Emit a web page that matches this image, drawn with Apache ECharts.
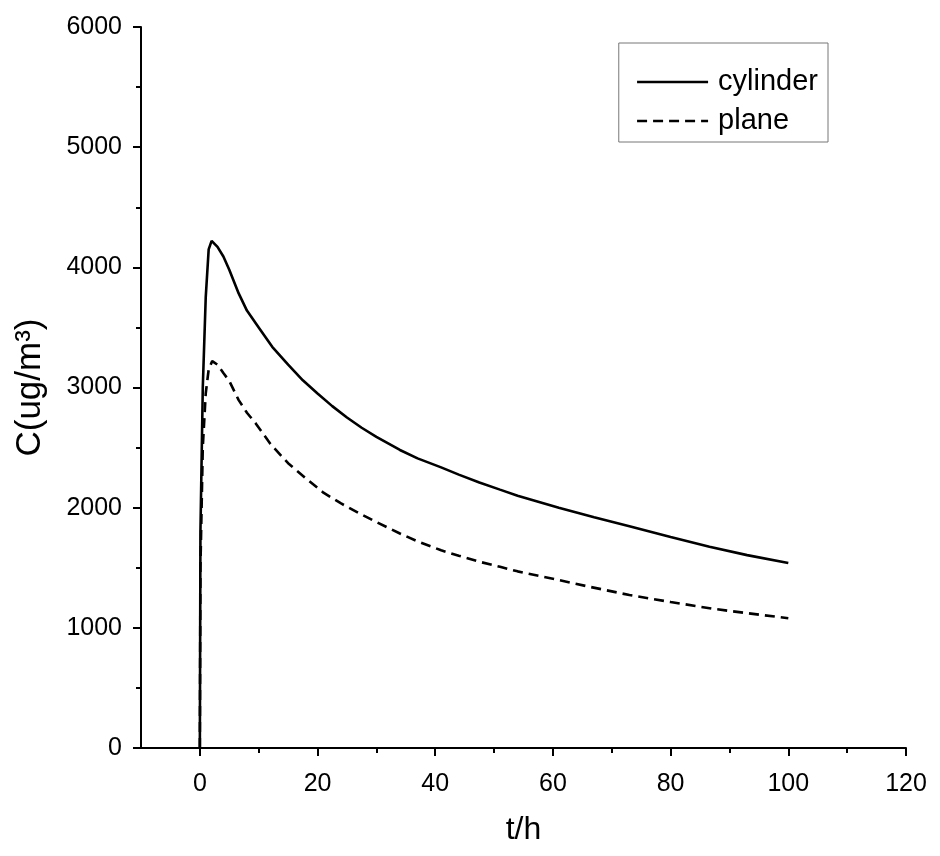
<!DOCTYPE html>
<html>
<head>
<meta charset="utf-8">
<script src="https://cdn.jsdelivr.net/npm/echarts@6/dist/echarts.min.js"></script>
<style>html,body{margin:0;padding:0;background:#fff;}#c{width:940px;height:856px;}</style>
</head>
<body>
<div id="c"></div>
<script>
var seriesNames = ['cylinder', 'plane'];
var tCylinder = [0, 0.1, 0.5, 1, 1.5, 2, 3, 4, 5, 6.6, 8, 10, 12.3, 15, 17.5, 20, 22.5, 25, 27.5, 30, 34, 37, 41, 44, 47.5, 51, 54, 57.5, 61, 67, 73, 80, 86.6, 93, 100];
var cCylinder = [0, 1800, 3000, 3750, 4150, 4220, 4170, 4090, 3980, 3783, 3640, 3500, 3339, 3190, 3060, 2950, 2845, 2750, 2665, 2590, 2480, 2410, 2335, 2275, 2210, 2150, 2100, 2050, 2000, 1920, 1845, 1755, 1675, 1605, 1540];
var tPlane = [0, 0.1, 0.5, 1, 1.5, 2.1, 3, 4, 5, 6.6, 8, 9.5, 12, 15, 18, 21, 24, 27, 30, 34, 37, 41, 44, 47.5, 51, 54, 58, 61, 66, 73, 80, 87, 93, 100];
var cPlane = [0, 1500, 2500, 2950, 3150, 3220, 3190, 3120, 3055, 2895, 2790, 2701, 2530, 2370, 2245, 2125, 2035, 1955, 1880, 1785, 1720, 1645, 1600, 1550, 1508, 1470, 1428, 1398, 1344, 1273, 1215, 1160, 1122, 1080];
var xMajorTicks = [0, 20, 40, 60, 80, 100, 120];
var xMinorTicks = [10, 30, 50, 70, 90, 110];
var xTitle = 't/h';
var yTitle = 'C(ug/m\u00B3)';

function pairs(t, c) { return t.map(function (v, i) { return [v, c[i]]; }); }

var FONT = 'Liberation Sans';
var chart = echarts.init(document.getElementById('c'), null, {renderer: 'canvas'});
chart.setOption({
  backgroundColor: '#ffffff',
  animation: false,
  textStyle: {fontFamily: FONT, color: '#000'},
  grid: {left: 141, right: 34, top: 27, bottom: 108, containLabel: false},
  legend: {
    orient: 'vertical',
    right: 112,
    top: 43,
    data: seriesNames,
    itemWidth: 71,
    itemHeight: 14,
    itemGap: 9,
    padding: [24, 10, 6, 17],
    borderColor: '#777',
    borderWidth: 1,
    itemStyle: {opacity: 0, borderWidth: 0},
    lineStyle: {width: 2.6},
    textStyle: {fontFamily: FONT, fontSize: 29, color: '#000', lineHeight: 30, padding: [0, 0, 0, 5]}
  },
  xAxis: [{
    type: 'value',
    min: -10, max: 120,
    interval: 10,
    name: xTitle,
    nameLocation: 'middle',
    nameGap: 66,
    nameTextStyle: {fontFamily: FONT, fontSize: 32, color: '#000'},
    axisLine: {show: true, onZero: false, lineStyle: {color: '#000', width: 2}},
    axisTick: {show: true, customValues: xMajorTicks, length: 8, lineStyle: {color: '#000', width: 2}},
    axisLabel: {show: true, customValues: xMajorTicks, margin: 24, fontFamily: FONT, fontSize: 25, color: '#000'},
    splitLine: {show: false}
  }, {
    type: 'value',
    min: -10, max: 120,
    position: 'bottom',
    axisLine: {show: false},
    axisTick: {show: true, customValues: xMinorTicks, length: 5, lineStyle: {color: '#000', width: 2}},
    axisLabel: {show: false},
    splitLine: {show: false}
  }],
  yAxis: {
    type: 'value',
    min: 0, max: 6000,
    interval: 1000,
    name: yTitle,
    nameLocation: 'middle',
    nameGap: 93,
    nameTextStyle: {fontFamily: FONT, fontSize: 35, color: '#000'},
    axisLine: {show: true, onZero: false, lineStyle: {color: '#000', width: 2}},
    axisTick: {show: true, length: 8, lineStyle: {color: '#000', width: 2}},
    minorTick: {show: true, splitNumber: 2, length: 5, lineStyle: {color: '#000', width: 2}},
    axisLabel: {margin: 19, fontFamily: FONT, fontSize: 25, color: '#000',
      formatter: function (v) { return String(v); }},
    splitLine: {show: false},
    minorSplitLine: {show: false}
  },
  series: [{
    name: seriesNames[0],
    type: 'line',
    xAxisIndex: 0,
    data: pairs(tCylinder, cCylinder),
    showSymbol: false,
    symbol: 'none',
    smooth: false,
    lineStyle: {color: '#000', width: 2.6, type: 'solid'},
    itemStyle: {color: '#000'}
  }, {
    name: seriesNames[1],
    type: 'line',
    xAxisIndex: 0,
    data: pairs(tPlane, cPlane),
    showSymbol: false,
    symbol: 'none',
    smooth: false,
    lineStyle: {color: '#000', width: 2.6, type: [10, 6]},
    itemStyle: {color: '#000'}
  }]
});
</script>
</body>
</html>
